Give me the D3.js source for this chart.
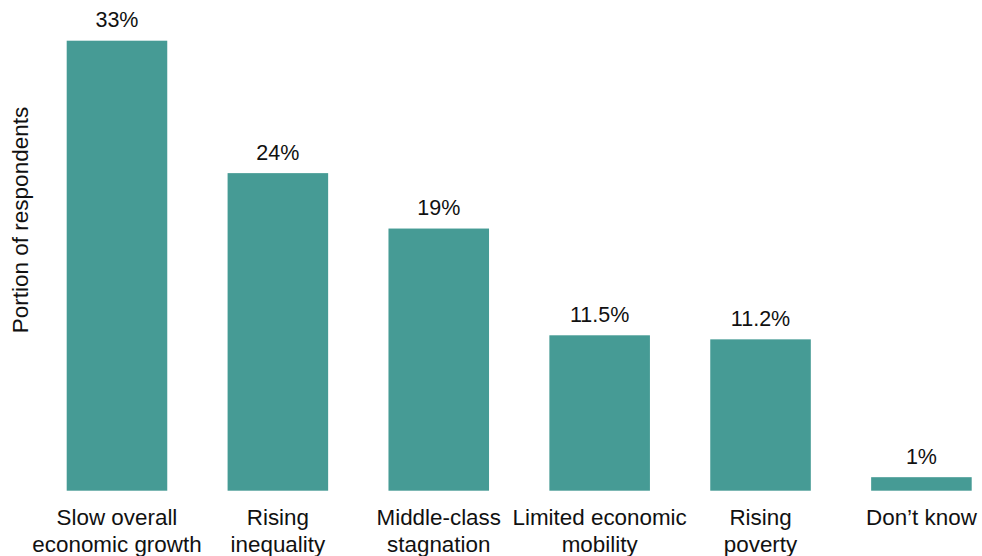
<!DOCTYPE html>
<html>
<head>
<meta charset="utf-8">
<script src="https://cdn.jsdelivr.net/npm/d3@7"></script>
<style>
  html, body { margin: 0; padding: 0; background: #fff; }
  svg { display: block; }
  text { font-family: "Liberation Sans", Arial, sans-serif; fill: #111; }
</style>
</head>
<body>
<svg id="chart" width="982" height="556"></svg>
<script>
const categories = [
  ["Slow overall", "economic growth"],
  ["Rising", "inequality"],
  ["Middle-class", "stagnation"],
  ["Limited economic", "mobility"],
  ["Rising", "poverty"],
  ["Don\u2019t know"]
];
const values = [33.3, 23.5, 19.4, 11.5, 11.2, 1.0];
const valueLabels = ["33%", "24%", "19%", "11.5%", "11.2%", "1%"];
const yTitle = "Portion of respondents";

const svg = d3.select("#chart");
const baseline = 490.7;

const x = d3.scaleBand()
  .domain(d3.range(categories.length))
  .range([66.7, 971.7])
  .paddingInner(0.375)
  .paddingOuter(0);

const y = d3.scaleLinear()
  .domain([0, 33.3])
  .range([baseline, 40.7]);

svg.append("g").selectAll("rect")
  .data(values)
  .join("rect")
  .attr("x", (d, i) => x(i))
  .attr("width", x.bandwidth())
  .attr("y", d => y(d))
  .attr("height", d => baseline - y(d))
  .attr("fill", "#469b95");

svg.append("g").selectAll("text")
  .data(values)
  .join("text")
  .attr("x", (d, i) => x(i) + x.bandwidth() / 2)
  .attr("y", d => y(d) - 13.5)
  .attr("text-anchor", "middle")
  .attr("font-size", 21.5)
  .text((d, i) => valueLabels[i]);

const xAxis = d3.axisBottom(x).tickSize(0).tickFormat(() => "");
const gx = svg.append("g")
  .attr("transform", `translate(0,${baseline})`)
  .call(xAxis);
gx.select(".domain").remove();
gx.selectAll(".tick").each(function(i) {
  const t = d3.select(this).select("text")
    .attr("y", 0).attr("dy", null)
    .attr("font-size", 22.4)
    .attr("font-family", "\"Liberation Sans\", Arial, sans-serif")
    .attr("fill", "#111");
  categories[i].forEach((line, k) => {
    t.append("tspan")
      .attr("x", 0)
      .attr("y", 34.5 + k * 26.5)
      .text(line);
  });
});

svg.append("text")
  .attr("transform", "translate(28,220) rotate(-90)")
  .attr("text-anchor", "middle")
  .attr("font-size", 22.5)
  .text(yTitle);
</script>
</body>
</html>
